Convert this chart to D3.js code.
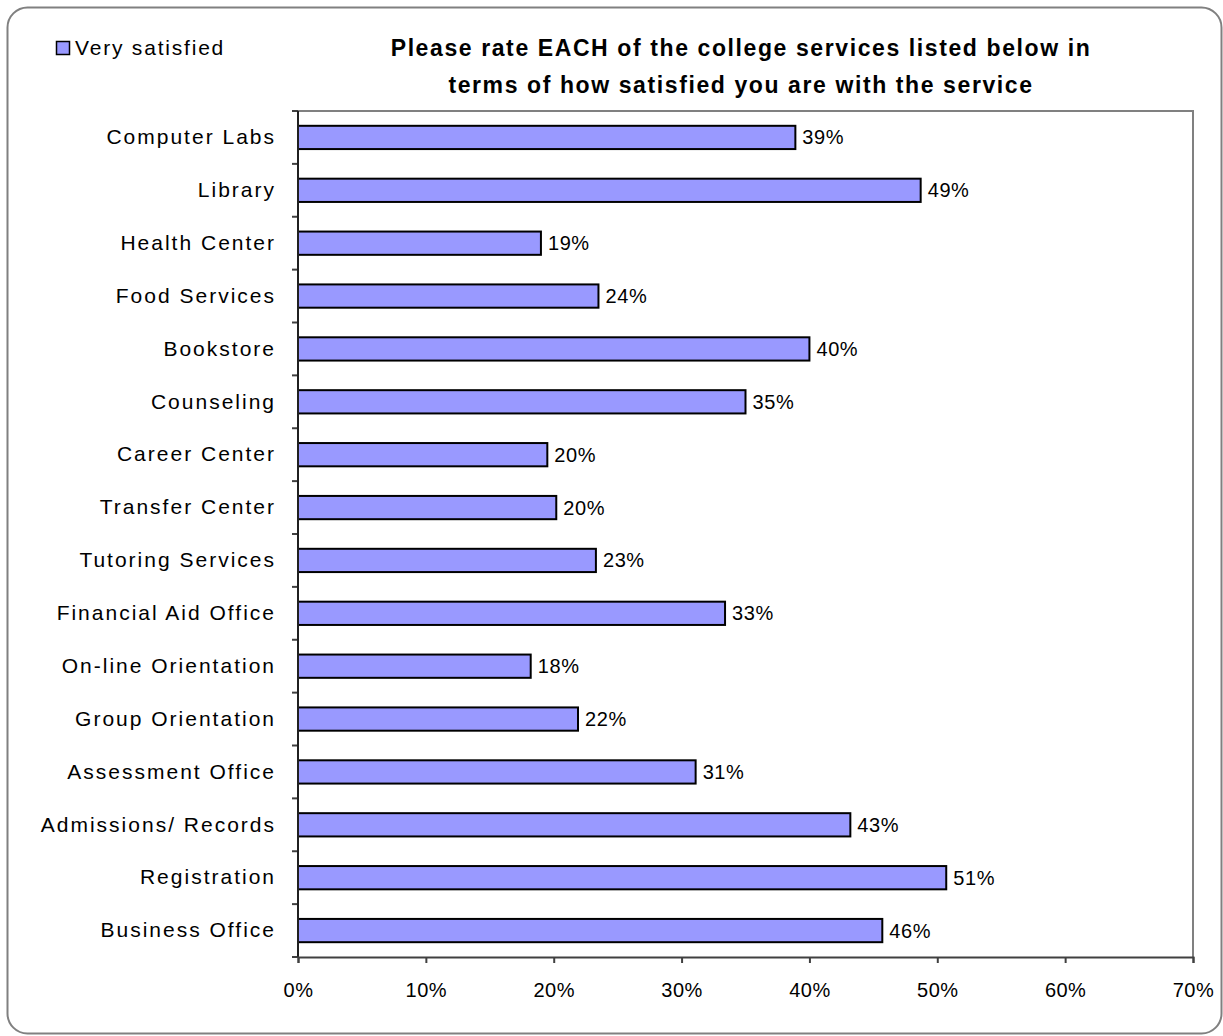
<!DOCTYPE html>
<html>
<head>
<meta charset="utf-8">
<script src="https://cdn.jsdelivr.net/npm/d3@7"></script>
<style>
  body { margin: 0; background: #fff; }
  text { font-family: Arial, "Liberation Sans", sans-serif; fill: #000; }
</style>
</head>
<body>
<svg width="1223" height="1036"></svg>
<script>
var categories = ['Computer Labs', 'Library', 'Health Center', 'Food Services', 'Bookstore',
    'Counseling', 'Career Center', 'Transfer Center', 'Tutoring Services', 'Financial Aid Office',
    'On-line Orientation', 'Group Orientation', 'Assessment Office', 'Admissions/ Records',
    'Registration', 'Business Office'];
var verySatisfied = [38.9, 48.7, 19.0, 23.5, 40.0, 35.0, 19.5, 20.2, 23.3, 33.4, 18.2, 21.9, 31.1, 43.2, 50.7, 45.7];
var xTicks = [0, 10, 20, 30, 40, 50, 60, 70];
var seriesName = 'Very satisfied';
var titleLines = ['Please rate EACH of the college services listed below in',
    'terms of how satisfied you are with the service'];

function drawChart() {
    var svg = d3.select('svg');
    var left = 298, right = 1193, top = 111, bottom = 957;

    // outer rounded frame
    svg.append('rect')
        .attr('x', 7.5).attr('y', 7.5)
        .attr('width', 1214).attr('height', 1026)
        .attr('rx', 20)
        .attr('fill', '#fff')
        .attr('stroke', '#808080')
        .attr('stroke-width', 2);

    var x = d3.scaleLinear().domain([0, 70]).range([left, right]);
    var y = d3.scaleBand().domain(categories).range([top, bottom])
        .paddingInner(0.56).paddingOuter(0.28);

    // plot border top / right
    svg.append('path')
        .attr('d', 'M' + left + ',' + top + 'H' + right + 'V' + bottom)
        .attr('fill', 'none').attr('stroke', '#808080').attr('stroke-width', 2);

    // bars
    var g = svg.selectAll('g.bar')
        .data(verySatisfied)
        .enter().append('g')
        .attr('class', 'bar');
    g.append('rect')
        .attr('x', x(0))
        .attr('y', (d, i) => y(categories[i]))
        .attr('width', d => x(d) - x(0))
        .attr('height', y.bandwidth())
        .attr('fill', '#9999FF')
        .attr('stroke', '#000')
        .attr('stroke-width', 2);
    g.append('text')
        .attr('x', d => x(d) + 7)
        .attr('y', (d, i) => y(categories[i]) + y.bandwidth() / 2)
        .attr('dy', '0.35em')
        .attr('font-size', 20)
        .attr('letter-spacing', 0.6)
        .text(d => Math.round(d) + '%');

    // y axis: labels plus ticks between categories
    var yAxis = d3.axisLeft(y).tickSize(0).tickPadding(22);
    var ya = svg.append('g').attr('transform', 'translate(' + left + ',0)').call(yAxis);
    ya.select('.domain').remove();
    ya.selectAll('text')
        .attr('font-size', 21)
        .attr('letter-spacing', 2)
        .attr('font-family', 'Arial, "Liberation Sans", sans-serif')
        .attr('fill', '#000');
    var step = y.step();
    var bounds = d3.range(categories.length + 1).map(i => top + i * step);
    svg.selectAll('line.ytick')
        .data(bounds)
        .enter().append('line')
        .attr('x1', left - 6).attr('x2', left)
        .attr('y1', d => d).attr('y2', d => d)
        .attr('stroke', '#404040').attr('stroke-width', 2);
    svg.append('line')
        .attr('x1', left).attr('x2', left)
        .attr('y1', top).attr('y2', bottom)
        .attr('stroke', '#202020').attr('stroke-width', 2);

    // x axis
    var xAxis = d3.axisBottom(x).tickValues(xTicks).tickSize(6).tickPadding(20)
        .tickFormat(d => d + '%');
    var xa = svg.append('g').attr('transform', 'translate(0,' + bottom + ')').call(xAxis);
    xa.select('.domain').attr('stroke', '#404040').attr('stroke-width', 2);
    xa.selectAll('.tick line').attr('stroke', '#404040').attr('stroke-width', 2);
    xa.selectAll('text')
        .attr('font-size', 20)
        .attr('letter-spacing', 0.5)
        .attr('font-family', 'Arial, "Liberation Sans", sans-serif')
        .attr('fill', '#000');

    // title
    svg.selectAll('text.title')
        .data(titleLines)
        .enter().append('text')
        .attr('class', 'title')
        .attr('x', 741)
        .attr('y', (d, i) => 56 + i * 37)
        .attr('text-anchor', 'middle')
        .attr('font-size', 23)
        .attr('font-weight', 'bold')
        .attr('letter-spacing', 1.6)
        .text(d => d);

    // legend
    svg.append('rect')
        .attr('x', 56.5).attr('y', 41.5)
        .attr('width', 13).attr('height', 13)
        .attr('fill', '#9999FF').attr('stroke', '#000').attr('stroke-width', 1.5);
    svg.append('text')
        .attr('x', 75).attr('y', 55)
        .attr('font-size', 21)
        .attr('letter-spacing', 1.8)
        .text(seriesName);
}
drawChart();
</script>
</body>
</html>
